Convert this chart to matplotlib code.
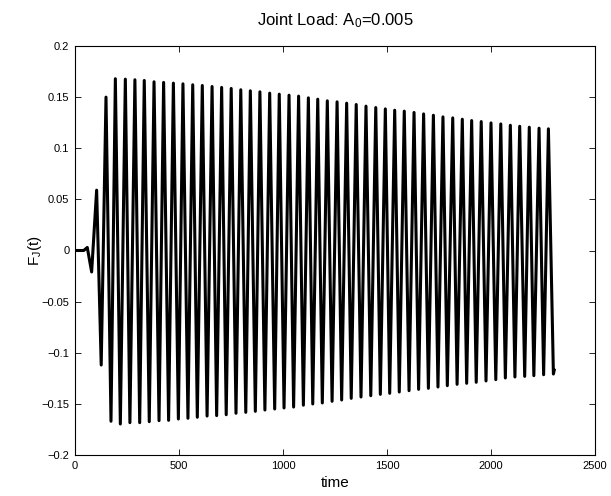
import matplotlib
matplotlib.use("Agg")
import matplotlib.pyplot as plt

plt.rcParams['font.family'] = ['Liberation Sans', 'DejaVu Sans']
plt.rcParams['mathtext.fontset'] = 'custom'
plt.rcParams['mathtext.rm'] = 'Liberation Sans'
plt.rcParams['mathtext.it'] = 'Liberation Sans'

# flat start of the signal
start_t = [0, 42]
start_f = [0.0, 0.0]

# peaks (time, value)
peak_t = [59, 104, 149, 194, 242, 288, 333, 380, 426, 473,
          519, 566, 612, 659, 705, 751, 797, 843, 889, 936,
          982, 1029, 1075, 1122, 1167, 1213, 1260, 1306, 1352, 1399,
          1446, 1492, 1537, 1583, 1630, 1676, 1723, 1769, 1816, 1862,
          1907, 1953, 2000, 2047, 2093, 2138, 2184, 2231, 2276]
peak_f = [0.003, 0.059, 0.150, 0.168, 0.1676, 0.167, 0.1663, 0.165, 0.1644, 0.1637,
          0.163, 0.1621, 0.1614, 0.1604, 0.1595, 0.1585, 0.1572, 0.1562, 0.1552, 0.1539,
          0.1529, 0.1519, 0.151, 0.1493, 0.148, 0.1464, 0.1454, 0.1441, 0.1428, 0.1412,
          0.1398, 0.1385, 0.1372, 0.1363, 0.135, 0.1336, 0.1323, 0.1307, 0.1297, 0.1284,
          0.1271, 0.1261, 0.1248, 0.1238, 0.1225, 0.1215, 0.1206, 0.1196, 0.119]

# troughs
trough_t = [80, 126, 173, 218, 264, 311, 357, 404, 450, 497,
            543, 588, 635, 681, 727, 774, 821, 867, 913, 960,
            1005, 1051, 1098, 1143, 1189, 1236, 1282, 1328, 1375, 1422,
            1468, 1513, 1559, 1606, 1652, 1699, 1745, 1790, 1837, 1883,
            1929, 1976, 2023, 2069, 2115, 2162, 2206, 2253, 2300]
trough_f = [-0.021, -0.112, -0.167, -0.1697, -0.1684, -0.1684, -0.1674, -0.1664, -0.1661, -0.1648,
            -0.1641, -0.1631, -0.1619, -0.1615, -0.1606, -0.1592, -0.1583, -0.1573, -0.156, -0.155,
            -0.154, -0.1531, -0.1513, -0.1501, -0.1491, -0.1475, -0.1462, -0.1446, -0.1433, -0.142,
            -0.1407, -0.1397, -0.1384, -0.1371, -0.1358, -0.1348, -0.1335, -0.1322, -0.1309, -0.1299,
            -0.1289, -0.1276, -0.1263, -0.1247, -0.1237, -0.1231, -0.1224, -0.1215, -0.1208]

end_t = [2304]
end_f = [-0.117]

xticks = [0, 500, 1000, 1500, 2000, 2500]
yticks = [-0.2, -0.15, -0.1, -0.05, 0, 0.05, 0.1, 0.15, 0.2]
ylabels = ['\u22120.2', '\u22120.15', '\u22120.1', '\u22120.05', '0', '0.05', '0.1', '0.15', '0.2']

# build the series: alternate peak / trough
t = list(start_t)
f = list(start_f)
for pt, pf, tt, tf in zip(peak_t, peak_f, trough_t, trough_f):
    t += [pt, tt]
    f += [pf, tf]
t += end_t
f += end_f

fig = plt.figure(figsize=(6.11, 4.96), dpi=100)
ax = fig.add_axes([75 / 611, 41 / 496, 520 / 611, 409 / 496])

ax.plot(t, f, color='black', linewidth=2.2, solid_joinstyle='round')

ax.set_xlim(0, 2500)
ax.set_ylim(-0.2, 0.2)
ax.set_xticks(xticks)
ax.set_xticklabels([str(x) for x in xticks])
ax.set_yticks(yticks)
ax.set_yticklabels(ylabels)
ax.tick_params(direction='in', length=4, width=0.6, labelsize=8,
               top=True, right=True, pad=4)
for s in ax.spines.values():
    s.set_linewidth(0.8)

ax.set_title('Joint Load: A$_{\\mathregular{0}}$=0.005', fontsize=12, pad=15)
ax.set_xlabel('time', fontsize=11, labelpad=4)
ax.set_ylabel('F$_{\\mathregular{J}}$(t)', fontsize=11, labelpad=-2)

fig.savefig('out.png', dpi=100)
